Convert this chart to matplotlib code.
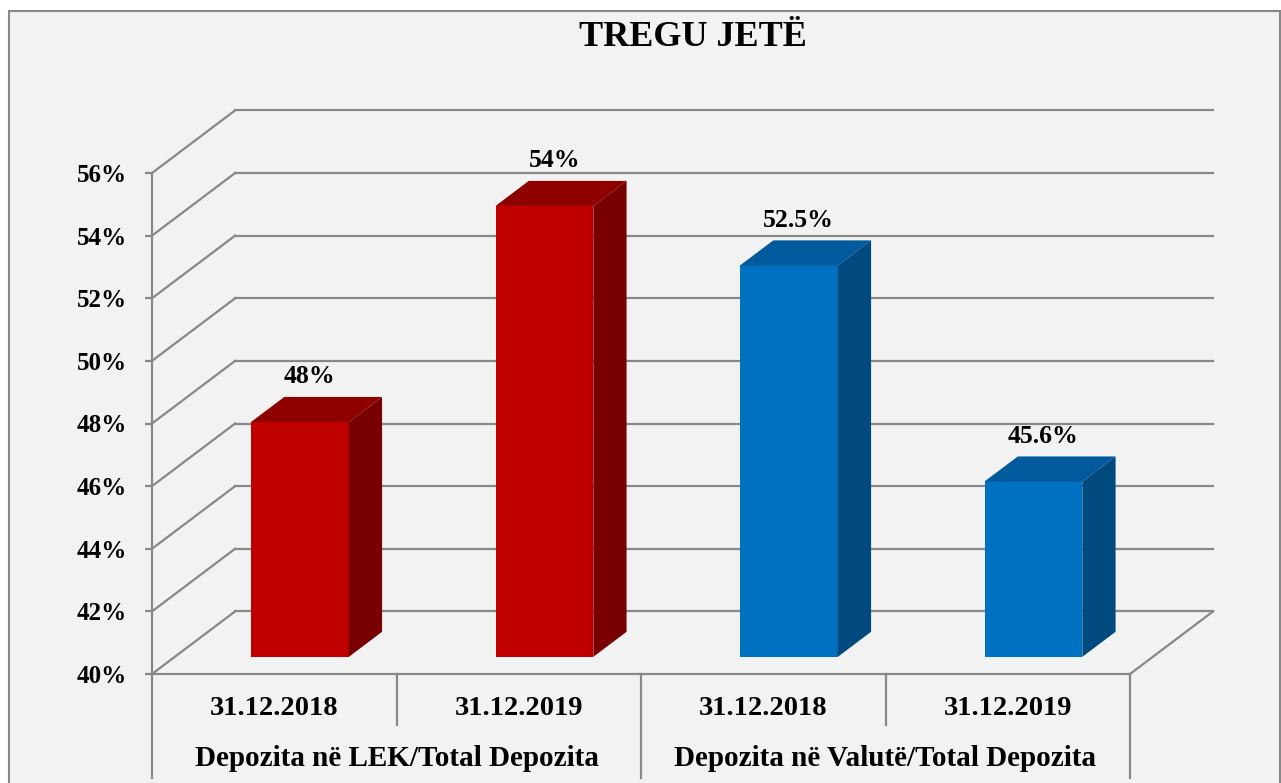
import matplotlib.pyplot as plt
from matplotlib.patches import Polygon, Rectangle

plt.rcParams['font.family'] = ['Liberation Serif', 'DejaVu Serif']
plt.rcParams['font.weight'] = 'bold'

# data
categories = ['31.12.2018', '31.12.2019', '31.12.2018', '31.12.2019']
groups = ['Depozita në LEK/Total Depozita', 'Depozita në Valutë/Total Depozita']
values = [47.5, 54.4, 52.5, 45.6]
value_labels = ['48%', '54%', '52.5%', '45.6%']
y_ticks = [40, 42, 44, 46, 48, 50, 52, 54, 56]

# (front, top, side) shades for each bar
red = ('#C00000', '#8F0000', '#780000')
blue = ('#0070C0', '#005A9C', '#004A80')
bar_colors = [red, red, blue, blue]

grid = '#888888'
DX, DY = 0.34, 2.0        # depth of the 3d box in data units
BAR_W = 0.40
BAR_F = 0.274             # depth fraction where bar front sits
BAR_D = 0.40              # depth fraction of the bar itself
SHIFT_X = 0.105

fig = plt.figure(figsize=(12.81, 7.83), dpi=100, facecolor='white')
fig.patches.append(Rectangle((8.5 / 1281, -5 / 783), (1280 - 8.5) / 1281, (783 - 10.5 + 5) / 783,
                             transform=fig.transFigure, facecolor='#F2F2F2',
                             edgecolor=grid, lw=1.5, zorder=-5))

ax = fig.add_axes([152 / 1281, 109 / 783, 978 / 1281, 501 / 783])
ax.set_facecolor('none')
ax.set_xlim(-0.5, 3.5)
ax.set_ylim(40, 56)

# walls and floor
for t in y_ticks:
    ax.plot([-0.5 + DX, 3.5 + DX], [t + DY, t + DY], color=grid, lw=1.6, clip_on=False, zorder=1)
    ax.plot([-0.5, -0.5 + DX], [t, t + DY], color=grid, lw=1.6, clip_on=False, zorder=1)
ax.plot([3.5, 3.5 + DX], [40, 40 + DY], color=grid, lw=1.6, clip_on=False, zorder=1)

# bars
for i, (v, lab, (cf, ct, cs)) in enumerate(zip(values, value_labels, bar_colors)):
    xc = i + SHIFT_X
    x0, x1 = xc - BAR_W / 2, xc + BAR_W / 2
    yb, yt = 40 + BAR_F * DY, v + BAR_F * DY
    ddx, ddy = BAR_D * DX, BAR_D * DY
    ax.bar(xc, v - 40, bottom=yb, width=BAR_W, color=cf, zorder=3, clip_on=False)
    ax.add_patch(Polygon([(x0, yt), (x1, yt), (x1 + ddx, yt + ddy), (x0 + ddx, yt + ddy)],
                         closed=True, facecolor=ct, edgecolor='none', zorder=3, clip_on=False))
    ax.add_patch(Polygon([(x1, yb), (x1, yt), (x1 + ddx, yt + ddy), (x1 + ddx, yb + ddy)],
                         closed=True, facecolor=cs, edgecolor='none', zorder=3, clip_on=False))
    ax.text(xc + 0.04, yt + ddy + 0.64, lab, ha='center', va='center',
            fontsize=18.5, fontweight='bold', zorder=4)

for s in ['top', 'right']:
    ax.spines[s].set_visible(False)
for s in ['left', 'bottom']:
    ax.spines[s].set_color(grid)
    ax.spines[s].set_linewidth(1.6)

ax.set_yticks(y_ticks, [f'{t}%' for t in y_ticks])
ax.tick_params(axis='y', length=5, width=1.6, color=grid, pad=13, labelsize=18)
ax.set_xticks([])

# category labels and dividers below the floor
tr = ax.get_xaxis_transform()
for i, c in enumerate(categories):
    ax.text(i, -0.068, c, transform=tr, ha='center', va='center', fontsize=20.5, fontweight='bold')
for g, name in enumerate(groups):
    ax.text(2 * g + 0.5, -0.168, name, transform=tr, ha='center', va='center',
            fontsize=21, fontweight='bold')
for xd in [-0.5, 0.5, 1.5, 2.5, 3.5]:
    low = -0.102 if xd in (0.5, 2.5) else -0.208
    ax.plot([xd, xd], [0, low], transform=tr, color=grid, lw=1.6, clip_on=False)

fig.text(693 / 1281, 1 - 37 / 783, 'TREGU JETË', ha='center', va='center',
         fontsize=26, fontweight='bold')

fig.savefig('out.png', dpi=100)
